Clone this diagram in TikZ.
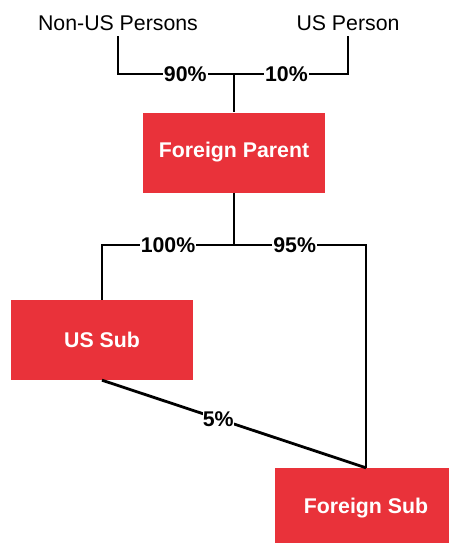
\documentclass[tikz,border=0pt]{standalone}
\usepackage{fontspec}
\setmainfont{Liberation Sans}
\usepackage{xcolor}
\usepackage{tikz}
\usetikzlibrary{positioning, calc}
\definecolor{boxred}{HTML}{E9323A}
\tikzset{
  entity/.style={fill=boxred, draw=none, text=white, align=center, font=\fontsize{21.3}{25}\selectfont\bfseries, minimum width=182pt, minimum height=80pt, inner sep=0pt},
  party/.style={font=\fontsize{21.3}{25}\selectfont, inner sep=5pt, anchor=base},
  pct/.style={fill=white, font=\fontsize{21.3}{25}\selectfont\bfseries, inner sep=1pt},
  link/.style={line width=2.8pt, draw=black},
}
\begin{document}
\begin{tikzpicture}[x=1pt, y=-1pt]
  \clip (0,0) rectangle (449,543);
  \useasboundingbox (0,0) rectangle (449,543);

  % Shareholders
  \node[party] (nonus) at (118,31) {Non-US Persons};
  \node[party] (usp) at (348,31) {US Person};
  \coordinate (top) at (234,74);
  \draw[link] (nonus.south) |- node[pct, pos=0.79] {90\%} (top);
  \draw[link] (top) -| node[pct, pos=0.23] {10\%} (usp.south);

  % Parent
  \node[entity] (parent) at (234,152.5) {Foreign Parent};
  \draw[link] (top) -- (parent.north);

  % Subsidiaries
  \node[entity] (ussub) at (102,340) {US Sub};
  \node[entity] (forsub) at (366,508) {Foreign Sub};
  \coordinate (mid) at (234,245);
  \draw[link] (parent.south) -- (mid);
  \draw[link] (mid) -| node[pct, pos=0.25] {100\%} (ussub.north);
  \draw[link] (mid) -| node[pct, pos=0.23] {95\%} (forsub.north);
  \draw[link] (ussub.south) -- node[pct, pos=0.44, inner sep=0pt] {5\%} (forsub.north);
\end{tikzpicture}
\end{document}
